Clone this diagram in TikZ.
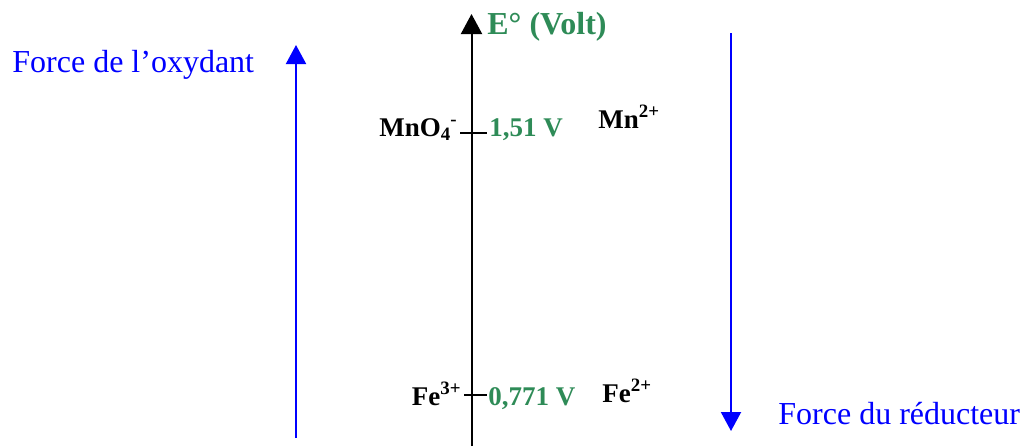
\documentclass[tikz,border=0pt]{standalone}
\usepackage{fontspec}
\setmainfont{Liberation Serif}
\usetikzlibrary{arrows.meta}
\definecolor{vgreen}{RGB}{46,139,87}
\definecolor{fblue}{RGB}{0,0,255}
\begin{document}
\begin{tikzpicture}[x=0.5pt,y=-0.5pt,
  lbl/.style={inner sep=0pt,font=\fontsize{13.5}{16}\selectfont\bfseries},
  val/.style={lbl,text=vgreen},
  big/.style={inner sep=0pt,font=\fontsize{16}{19}\selectfont},
  axisline/.style={line width=1pt,-{Triangle[width=10.5pt,length=10pt]}},
  bluearrow/.style={line width=1pt,fblue,-{Triangle[width=10pt,length=9.5pt]}},
  tick/.style={line width=0.9pt}]
\useasboundingbox (0,0) rectangle (1023,446);
% main axis
\coordinate (axb) at (471.5,446);
\coordinate (axt) at (471.5,14);
\draw[axisline] (axb) -- (axt);
\node[big,text=vgreen,font=\fontsize{16}{19}\selectfont\bfseries,anchor=base west] (eo) at (487,34) {E° (Volt)};
% MnO4- / Mn2+
\coordinate (t1a) at (460,133);
\coordinate (t1b) at (487,133);
\draw[tick] (t1a) -- (t1b);
\node[lbl,anchor=base east] (mno) at (458,136) {MnO\textsubscript{4}\kern-0.5pt\textsuperscript{-}};
\node[val,anchor=base west] (v1) at (489,136) {1,51 V};
\node[lbl,anchor=base west] (mn) at (598,128) {Mn\textsuperscript{2+}};
% Fe3+ / Fe2+
\coordinate (t2a) at (464,395);
\coordinate (t2b) at (487,395);
\draw[tick] (t2a) -- (t2b);
\node[lbl,anchor=base east] (fe3) at (462,405) {Fe\textsuperscript{3+}};
\node[val,anchor=base west] (v2) at (488,405) {0,771 V};
\node[lbl,anchor=base west] (fe2) at (602,402) {Fe\textsuperscript{2+}};
% blue arrows
\coordinate (lb) at (296,438);
\coordinate (lt) at (296,45);
\draw[bluearrow] (lb) -- (lt);
\node[big,text=fblue,anchor=base west] (ox) at (12,72) {Force de l’oxydant};
\coordinate (rt) at (731,33);
\coordinate (rb) at (731,431);
\draw[bluearrow] (rt) -- (rb);
\node[big,text=fblue,anchor=base west] (red) at (778,424) {Force du réducteur};
\end{tikzpicture}
\end{document}
